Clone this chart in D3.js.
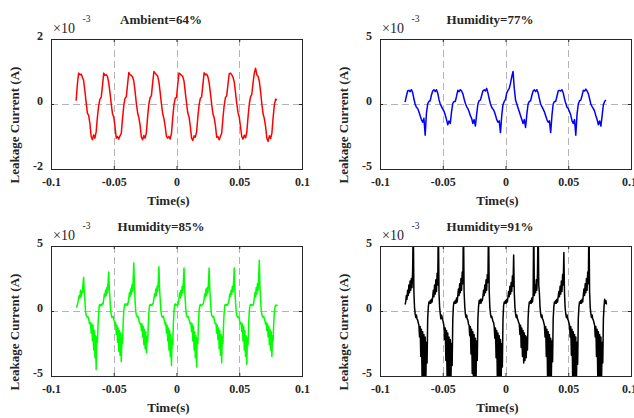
<!DOCTYPE html>
<html>
<head>
<meta charset="utf-8">
<script src="https://cdn.jsdelivr.net/npm/d3@7"></script>
<style>
  body { margin: 0; background: #fff; }
  svg text { font-family: "Liberation Serif", "Times New Roman", serif; fill: #262626; }
</style>
</head>
<body>
<div id="chart"></div>
<script>
// leakage current traces, values in units of 1e-3 A
const tStart = -0.08;
const stepCoarse = 0.001;  // ambient 64%, humidity 77%
const stepFine = 0.0005;   // humidity 85%, humidity 91%

const ambient64 = [
  0.1, 0.6, 0.95, 0.9, 0.92, 0.82, 0.72, 0.4, 0.05, -0.28, -0.35, -0.6, -1.0, -1.1, -0.95, -1.05, -0.85, -0.4, -0.05, 0.15,
  0.2, 0.55, 0.95, 0.88, 0.9, 0.85, 0.65, 0.35, 0.0, -0.3, -0.4, -0.7, -1.05, -1.0, -1.08, -0.98, -0.9, -0.45, -0.05, 0.18,
  0.22, 0.6, 0.97, 0.9, 0.88, 0.83, 0.7, 0.38, 0.02, -0.27, -0.42, -0.65, -1.02, -1.1, -0.97, -1.05, -0.88, -0.38, 0.0, 0.2,
  0.25, 0.65, 1.0, 0.95, 0.9, 0.86, 0.68, 0.35, 0.0, -0.3, -0.45, -0.7, -1.0, -1.05, -1.0, -1.08, -0.9, -0.42, -0.02, 0.18,
  0.2, 0.6, 0.95, 0.92, 0.88, 0.85, 0.7, 0.36, 0.03, -0.28, -0.4, -0.68, -1.05, -1.12, -0.98, -1.02, -0.86, -0.4, -0.03, 0.17,
  0.22, 0.58, 0.96, 0.9, 0.92, 0.84, 0.66, 0.34, 0.0, -0.3, -0.42, -0.66, -1.02, -1.0, -1.1, -1.0, -0.9, -0.44, -0.04, 0.2,
  0.25, 0.6, 0.93, 0.95, 0.9, 0.83, 0.68, 0.36, 0.02, -0.26, -0.4, -0.7, -1.0, -1.08, -0.96, -1.04, -0.88, -0.4, 0.0, 0.22,
  0.3, 0.65, 0.95, 1.1, 0.9, 0.85, 0.7, 0.38, 0.0, -0.3, -0.45, -0.7, -1.05, -1.15, -0.98, -1.06, -0.9, -0.42, -0.02, 0.15,
  0.12
];

const humidity77 = [
  0.15, 0.6, 1.0, 1.05, 0.95, 1.1, 0.9, 0.4, 0.0, -0.25, -0.35, -0.6, -0.9, -1.2, -1.4, -1.1, -2.4, -0.7, 0.0, 0.2,
  0.25, 0.7, 1.0, 1.1, 0.95, 1.1, 0.85, 0.35, 0.0, -0.2, -0.4, -0.55, -0.85, -1.2, -1.6, -1.3, -1.5, -0.6, 0.05, 0.2,
  0.2, 0.6, 1.05, 0.95, 1.1, 1.0, 0.8, 0.4, 0.05, -0.2, -0.35, -0.6, -0.9, -1.1, -1.5, -1.2, -1.7, -0.8, 0.0, 0.25,
  0.3, 0.65, 1.0, 1.1, 1.0, 1.2, 0.85, 0.4, 0.0, -0.25, -0.4, -0.55, -0.85, -1.2, -1.4, -1.3, -2.2, -0.9, -0.05, 0.2,
  0.35, 0.85, 1.05, 1.2, 1.6, 2.1, 2.5, 1.2, 0.3, 0.0, -0.3, -0.6, -0.9, -1.2, -1.5, -1.2, -1.8, -0.8, 0.0, 0.2,
  0.25, 0.65, 1.0, 1.1, 0.95, 1.1, 0.85, 0.4, 0.0, -0.2, -0.4, -0.6, -0.9, -1.2, -1.4, -1.3, -2.2, -0.9, 0.0, 0.2,
  0.2, 0.6, 1.0, 1.05, 1.0, 1.1, 0.85, 0.4, 0.05, -0.25, -0.35, -0.6, -0.85, -1.3, -1.5, -1.2, -2.4, -0.8, 0.0, 0.25,
  0.3, 0.65, 1.05, 1.0, 1.15, 1.0, 0.8, 0.4, 0.0, -0.2, -0.35, -0.55, -0.9, -1.2, -1.6, -1.3, -1.7, -0.9, -0.05, 0.2,
  0.3
];

const humidity85 = [
  0.35, 0.3, 0.5, 0.7, 1.0, 1.2, 1.0, 1.6, 1.1, 1.5, 1.4, 2.1, 2.6, 1.5, 0.8, 0.0, -0.35, -0.4, -0.5, -0.45,
  -0.6, -0.9, -1.0, -0.9, -1.7, -1.0, -2.3, -1.1, -3.0, -1.5, -3.6, -1.9, -4.5, -2.0, -2.4, -1.0, -0.1, 0.45, 0.5, 0.4,
  0.5, 0.45, 0.6, 0.55, 0.9, 1.3, 1.1, 1.6, 1.2, 1.8, 1.4, 2.2, 3.0, 1.6, 0.9, 0.1, -0.3, -0.5, -0.45, -0.4,
  -0.65, -0.8, -1.1, -0.9, -1.8, -1.1, -2.4, -1.3, -3.1, -1.5, -3.4, -1.7, -3.9, -2.1, -2.5, -0.9, 0.0, 0.4, 0.55, 0.45,
  0.5, 0.55, 0.45, 0.65, 1.0, 1.4, 1.1, 1.7, 1.3, 2.0, 1.5, 2.5, 3.7, 1.8, 0.8, 0.0, -0.3, -0.4, -0.5, -0.45,
  -0.7, -0.9, -1.0, -0.95, -1.5, -1.0, -2.0, -1.2, -2.6, -1.4, -2.9, -1.6, -3.2, -2.0, -2.4, -1.1, -0.1, 0.4, 0.5, 0.45,
  0.5, 0.45, 0.55, 0.6, 0.95, 1.3, 1.1, 1.7, 1.2, 1.9, 1.5, 2.3, 3.4, 1.7, 0.9, 0.1, -0.3, -0.45, -0.5, -0.4,
  -0.6, -0.85, -1.05, -0.9, -1.7, -1.1, -2.3, -1.3, -3.0, -1.5, -3.5, -1.8, -4.2, -2.2, -2.6, -1.0, -0.05, 0.45, 0.55, 0.45,
  0.5, 0.5, 0.45, 0.65, 1.0, 1.4, 1.0, 1.6, 1.2, 1.9, 1.4, 2.3, 3.3, 1.6, 0.8, 0.05, -0.3, -0.45, -0.5, -0.45,
  -0.65, -0.8, -1.0, -0.9, -1.6, -1.0, -2.3, -1.2, -3.0, -1.6, -3.6, -1.9, -4.3, -2.1, -2.5, -0.9, 0.0, 0.4, 0.5, 0.4,
  0.45, 0.5, 0.5, 0.6, 0.9, 1.3, 1.1, 1.7, 1.2, 1.8, 1.4, 2.2, 3.3, 1.7, 0.9, 0.1, -0.35, -0.4, -0.5, -0.4,
  -0.6, -0.9, -1.0, -0.95, -1.7, -1.1, -2.2, -1.3, -2.9, -1.5, -3.4, -1.8, -4.0, -2.0, -2.5, -1.0, -0.1, 0.45, 0.5, 0.45,
  0.5, 0.45, 0.55, 0.65, 1.0, 1.3, 1.1, 1.6, 1.3, 1.9, 1.5, 2.2, 3.3, 1.6, 0.8, 0.0, -0.3, -0.45, -0.5, -0.45,
  -0.6, -0.85, -1.0, -0.9, -1.6, -1.0, -2.3, -1.2, -3.0, -1.5, -3.5, -1.9, -4.1, -2.1, -2.6, -1.0, 0.0, 0.4, 0.5, 0.45,
  0.5, 0.5, 0.45, 0.6, 1.0, 1.4, 1.1, 1.8, 1.3, 2.1, 1.6, 2.6, 3.9, 1.8, 0.9, 0.1, -0.3, -0.4, -0.5, -0.4,
  -0.6, -0.8, -1.0, -0.9, -1.5, -1.0, -2.0, -1.2, -2.6, -1.4, -3.0, -1.6, -3.5, -1.9, -2.3, -0.9, -0.1, 0.3, 0.45, 0.4,
  0.45, 0.4
];

const humidity91 = [
  0.5, 0.7, 1.2, 0.9, 1.6, 1.2, 2.0, 1.4, 2.3, 1.6, 2.5, 1.8, 3.0, 7, 1.5, 0.3, -0.2, -0.5, -0.3, -0.6,
  -0.7, -0.9, -1.1, -2.0, -1.2, -3.5, -1.4, -5.0, -1.6, -5.5, -1.8, -5.5, -2.0, -5.5, -2.4, -4.0, -0.6, 0.3, 0.7, 0.6,
  0.8, 0.6, 0.9, 0.7, 1.1, 1.6, 1.1, 2.0, 1.3, 2.4, 1.5, 2.9, 2.0, 7, 1.4, 0.3, -0.2, -0.6, -0.3, -0.5,
  -0.7, -0.9, -1.2, -2.2, -1.3, -3.8, -1.5, -5.5, -1.7, -5.5, -2.0, -5.5, -2.2, -5.5, -2.5, -4.2, -0.6, 0.4, 0.7, 0.6,
  0.8, 0.6, 1.0, 0.7, 1.2, 1.7, 1.2, 2.1, 1.4, 2.5, 1.6, 3.0, 2.1, 7, 1.5, 0.4, -0.2, -0.5, -0.3, -0.6,
  -0.7, -1.0, -1.1, -1.9, -1.2, -3.3, -1.4, -4.8, -1.6, -5.5, -1.8, -5.0, -2.1, -5.5, -2.3, -3.8, -0.6, 0.3, 0.8, 0.6,
  0.9, 0.6, 0.9, 0.8, 1.1, 1.6, 1.2, 2.0, 1.4, 2.4, 1.6, 2.8, 2.2, 7, 1.6, 0.3, -0.2, -0.5, -0.4, -0.6,
  -0.8, -0.9, -1.2, -2.1, -1.3, -3.6, -1.5, -5.2, -1.7, -5.5, -1.9, -5.5, -2.2, -5.5, -2.5, -4.3, -0.6, 0.4, 0.7, 0.6,
  0.8, 0.6, 0.9, 0.7, 1.1, 1.5, 1.1, 1.9, 1.3, 2.2, 1.5, 2.7, 1.9, 4.3, 1.4, 0.3, -0.2, -0.5, -0.3, -0.6,
  -0.7, -0.9, -1.0, -1.8, -1.1, -2.8, -1.3, -3.5, -1.5, -4.0, -1.7, -3.8, -1.9, -3.6, -2.0, -3.0, -0.6, 0.3, 0.7, 0.6,
  0.8, 0.6, 1.0, 0.7, 1.2, 7, 1.2, 2.0, 1.4, 2.4, 1.6, 2.9, 7, 2.0, 1.4, 0.3, -0.2, -0.5, -0.3, -0.6,
  -0.7, -0.9, -1.1, -2.0, -1.2, -3.5, -1.4, -5.0, -1.6, -5.5, -1.8, -5.5, -2.1, -5.2, -2.3, -3.9, -0.6, 0.3, 0.7, 0.6,
  0.8, 0.6, 0.9, 0.7, 1.1, 1.5, 1.1, 1.9, 1.3, 2.3, 1.5, 2.8, 2.0, 4.5, 1.4, 0.3, -0.2, -0.5, -0.3, -0.6,
  -0.7, -0.9, -1.1, -2.0, -1.2, -3.4, -1.4, -5.0, -1.6, -5.5, -1.8, -5.5, -2.0, -5.5, -2.4, -4.1, -0.6, 0.3, 0.7, 0.6,
  0.8, 0.6, 0.9, 0.7, 1.2, 1.7, 1.2, 2.1, 1.4, 2.5, 1.6, 3.0, 2.1, 7, 1.5, 0.3, -0.2, -0.5, -0.3, -0.6,
  -0.7, -0.9, -1.1, -2.0, -1.2, -3.5, -1.4, -5.0, -1.6, -5.5, -1.8, -5.5, -2.0, -5.5, -2.4, -4.0, -0.6, 0.3, 0.9, 0.6,
  0.8, 0.5
];

const titles = ["Ambient=64%", "Humidity=77%", "Humidity=85%", "Humidity=91%"];
const xTicks = [-0.1, -0.05, 0, 0.05, 0.1];
const xTickLabels = ["-0.1", "-0.05", "0", "0.05", "0.1"];
const yLimits = [2, 5, 5, 5];
const colors = ["#ff0000", "#0000ff", "#00ff00", "#000000"];

const W = 251, H = 130;
const axisColor = "#262626";

const panels = [
  { title: titles[0], values: ambient64, step: stepCoarse, lim: yLimits[0], color: colors[0], x0: 51, y0: 39 },
  { title: titles[1], values: humidity77, step: stepCoarse, lim: yLimits[1], color: colors[1], x0: 380, y0: 39 },
  { title: titles[2], values: humidity85, step: stepFine, lim: yLimits[2], color: colors[2], x0: 51, y0: 246 },
  { title: titles[3], values: humidity91, step: stepFine, lim: yLimits[3], color: colors[3], x0: 380, y0: 246 }
];

const svg = d3.select("#chart").append("svg")
  .attr("width", 634)
  .attr("height", 418);

panels.forEach((p, k) => {
  const g = svg.append("g").attr("transform", `translate(${p.x0},${p.y0})`);

  const x = d3.scaleLinear().domain([-0.1, 0.1]).range([0, W]);
  const y = d3.scaleLinear().domain([-p.lim, p.lim]).range([H, 0]);
  const yTicks = [-p.lim, 0, p.lim];

  // dashed grid
  g.append("g").selectAll("line")
    .data(xTicks.slice(1, -1))
    .join("line")
    .attr("x1", (d) => Math.round(x(d)) + 0.5)
    .attr("x2", (d) => Math.round(x(d)) + 0.5)
    .attr("y1", 0).attr("y2", H)
    .attr("stroke", "#b4b4b4")
    .attr("stroke-dasharray", "7,4");
  g.append("line")
    .attr("x1", 0).attr("x2", W)
    .attr("y1", Math.round(y(0)) + 0.5)
    .attr("y2", Math.round(y(0)) + 0.5)
    .attr("stroke", "#b4b4b4")
    .attr("stroke-dasharray", "7,4");

  // trace
  g.append("clipPath").attr("id", "clip" + k)
    .append("rect").attr("width", W).attr("height", H);

  g.append("path")
    .datum(p.values)
    .attr("clip-path", `url(#clip${k})`)
    .attr("fill", "none")
    .attr("stroke", p.color)
    .attr("stroke-width", 1.5)
    .attr("stroke-linejoin", "round")
    .attr("d", d3.line()
      .x((d, i) => x(tStart + i * p.step))
      .y((d) => y(d)));

  // axes with inward ticks
  const bottom = g.append("g").attr("transform", `translate(0,${H})`)
    .call(d3.axisBottom(x).tickValues(xTicks)
      .tickFormat((d, i) => xTickLabels[i])
      .tickSizeInner(-3).tickSizeOuter(0).tickPadding(8));
  g.append("g")
    .attr("class", "yaxis")
    .call(d3.axisLeft(y).tickValues(yTicks)
      .tickFormat((d) => String(d))
      .tickSizeInner(-3).tickSizeOuter(0).tickPadding(8));
  g.append("g")
    .call(d3.axisTop(x).tickValues(xTicks).tickFormat("").tickSizeInner(-3).tickSizeOuter(0));
  g.append("g").attr("transform", `translate(${W},0)`)
    .call(d3.axisRight(y).tickValues(yTicks).tickFormat("").tickSizeInner(-3).tickSizeOuter(0));

  g.selectAll(".domain").remove();
  g.selectAll(".tick line").attr("stroke", axisColor);
  g.selectAll(".tick text")
    .attr("font-family", "Liberation Serif, Times New Roman, serif")
    .attr("font-size", 12)
    .attr("font-weight", "bold")
    .attr("fill", axisColor);
  g.selectAll(".yaxis .tick text").attr("dy", "0.05em");
  // the right column's last label sits at the page edge
  if (p.x0 + W > 600) {
    bottom.selectAll(".tick text").filter((d) => d === 0.1).attr("dx", -2);
  }

  g.append("rect")
    .attr("x", 0.5).attr("y", 0.5)
    .attr("width", W).attr("height", H)
    .attr("fill", "none")
    .attr("stroke", axisColor)
    .attr("stroke-width", 1);

  // exponent
  g.append("text")
    .attr("x", 2).attr("y", -6)
    .attr("font-size", 14)
    .text("\u00d710");
  g.append("text")
    .attr("x", 31.5).attr("y", -17)
    .attr("font-size", 9.5)
    .text("-3");

  // title and labels
  g.append("text")
    .attr("x", 110).attr("y", -15)
    .attr("text-anchor", "middle")
    .attr("font-size", 13)
    .attr("font-weight", "bold")
    .text(p.title);

  g.append("text")
    .attr("x", 117.5).attr("y", H + 36)
    .attr("text-anchor", "middle")
    .attr("font-size", 13)
    .attr("font-weight", "bold")
    .text("Time(s)");

  g.append("text")
    .attr("transform", `translate(-32,86) rotate(-90)`)
    .attr("text-anchor", "middle")
    .attr("font-size", 13)
    .attr("font-weight", "bold")
    .text("Leakage Current (A)");
});
</script>
</body>
</html>
